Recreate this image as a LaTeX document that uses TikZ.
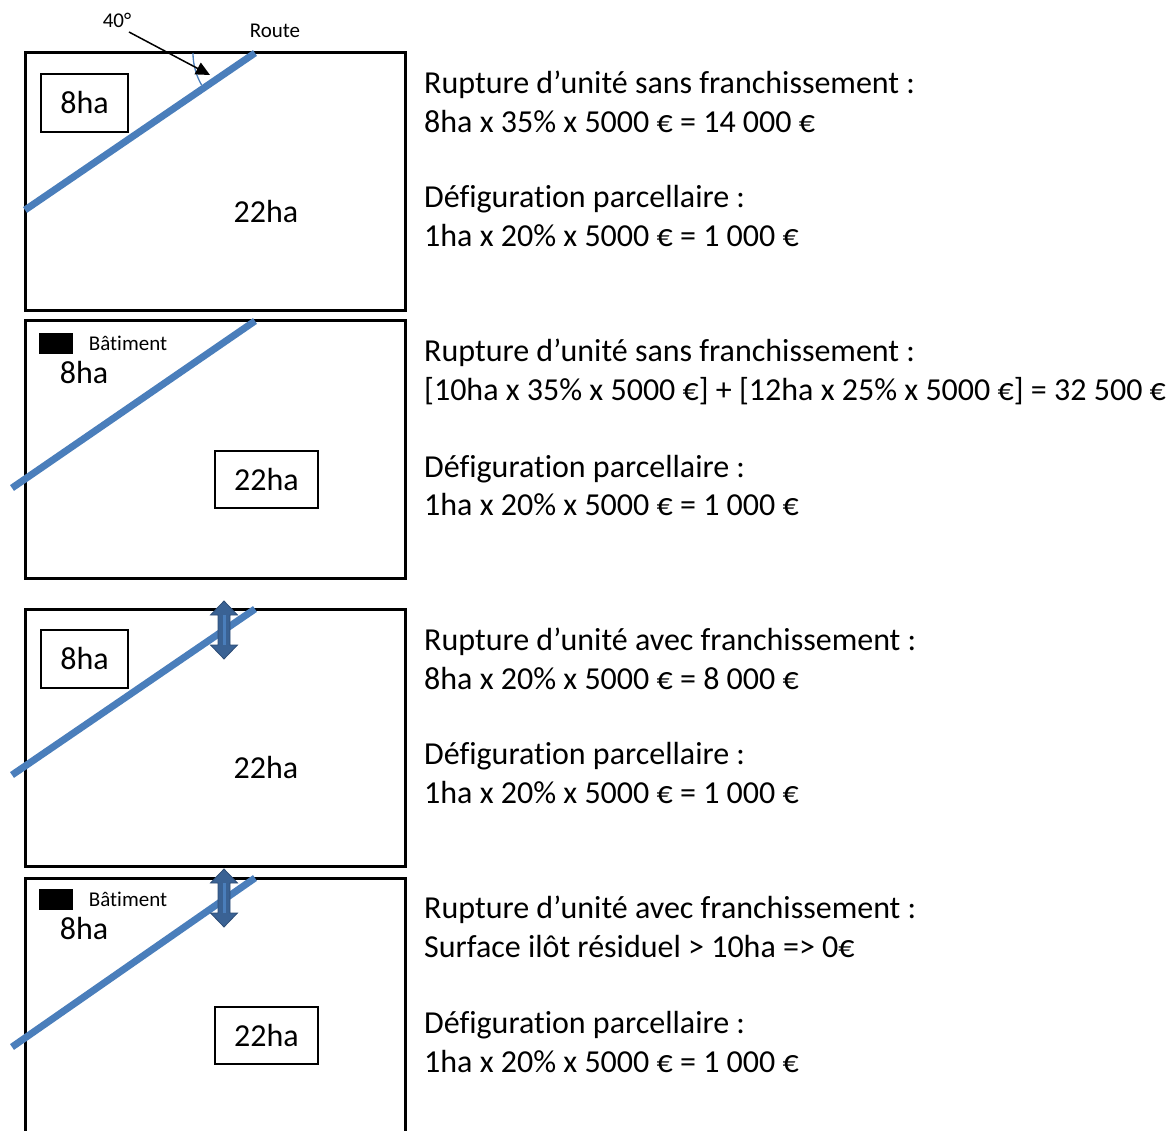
\documentclass[tikz,border=0pt]{standalone}
\usepackage{fontspec}
\setmainfont{Carlito}[Ligatures=NoCommon]
\usetikzlibrary{positioning, arrows.meta}
\definecolor{route}{RGB}{74,126,187}
\definecolor{routedark}{RGB}{58,98,148}

\begin{document}
\begin{tikzpicture}[x=1pt, y=-1pt,
    every node/.style={inner sep=0pt},
    parcelle/.style={line width=3pt},
    route/.style={draw=route, line width=7pt},
    ilot/.style={draw, line width=1.5pt, font=\fontsize{32}{38}\selectfont},
    grand/.style={font=\fontsize{32}{38}\selectfont},
    petit/.style={font=\fontsize{21}{25}\selectfont},
    calcul/.style={anchor=base west, font=\fontsize{32}{38}\selectfont}]
  \useasboundingbox (0,0) rectangle (1170,1131);

  % parcelles
  \draw[parcelle] (25,53) rectangle (405,311);
  \draw[parcelle] (25,321) rectangle (405,578);
  \draw[parcelle] (25,609) rectangle (405,866);
  \draw[parcelle] (25,1135) -- (25,878) -- (405,878) -- (405,1135);

  % routes
  \coordinate (r1a) at (25,210);  \coordinate (r1b) at (255,53);
  \coordinate (r2a) at (12,488);  \coordinate (r2b) at (255,321);
  \coordinate (r3a) at (12,775);  \coordinate (r3b) at (255,609);
  \coordinate (r4a) at (12,1047); \coordinate (r4b) at (255,878);
  \foreach \r in {1,2,3,4}
    \draw[route] (r\r a) -- (r\r b);

  % angle
  \draw[route, line width=1.3pt] (193,53) arc[start angle=180, end angle=150, radius=64];
  \node[petit] (angle) at (117,20) {40°};
  \coordinate (pointe) at (210,75);
  \draw[line width=1.5pt, -{Triangle[length=14pt, width=13pt]}] (129,32) -- (pointe);
  \node[petit] (nomroute) at (275,31) {Route};

  % franchissements
  \foreach \t in {601,869} {
    \begin{scope}[shift={(224,\t)}]
      \filldraw[fill=routedark, draw=routedark!80!black, line width=0.8pt]
        (0,0) -- (13.5,14) -- (6,14) -- (6,44) -- (13.5,44) -- (0,58)
        -- (-13.5,44) -- (-6,44) -- (-6,14) -- (-13.5,14) -- cycle;
      \draw[route, line width=3pt] (0,14) -- (0,44);
    \end{scope}
  }

  % ilots
  \node[ilot, minimum width=87pt, minimum height=58pt] (p1a) at (84.5,103) {8ha};
  \node[grand] (p1b) at (266,212) {22ha};
  \fill (39,333) rectangle (73,354);
  \node[petit] (bat2) at (128,343) {Bâtiment};
  \node[grand] (p2a) at (84,373) {8ha};
  \node[ilot, minimum width=103pt, minimum height=57pt] (p2b) at (266.5,479.5) {22ha};
  \node[ilot, minimum width=87pt, minimum height=58pt] (p3a) at (84.5,659) {8ha};
  \node[grand] (p3b) at (266,768) {22ha};
  \fill (39,889) rectangle (73,910);
  \node[petit] (bat4) at (128,899) {Bâtiment};
  \node[grand] (p4a) at (84,929) {8ha};
  \node[ilot, minimum width=103pt, minimum height=57pt] (p4b) at (266.5,1035.5) {22ha};

  % calculs
  \node[calcul] (c1a) at (424,94) {Rupture d’unité sans franchissement :};
  \node[calcul] (c1b) at (424,133) {8ha x 35\% x 5000 € = 14 000 €};
  \node[calcul] (c1c) at (424,208) {Défiguration parcellaire :};
  \node[calcul] (c1d) at (424,247) {1ha x 20\% x 5000 € = 1 000 €};
  \node[calcul] (c2a) at (424,362) {Rupture d’unité sans franchissement :};
  \node[calcul] (c2b) at (424,401) {[10ha x 35\% x 5000 €] + [12ha x 25\% x 5000 €] = 32 500 €};
  \node[calcul] (c2c) at (424,477) {Défiguration parcellaire :};
  \node[calcul] (c2d) at (424,515) {1ha x 20\% x 5000 € = 1 000 €};
  \node[calcul] (c3a) at (424,650) {Rupture d’unité avec franchissement :};
  \node[calcul] (c3b) at (424,689) {8ha x 20\% x 5000 € = 8 000 €};
  \node[calcul] (c3c) at (424,764) {Défiguration parcellaire :};
  \node[calcul] (c3d) at (424,803) {1ha x 20\% x 5000 € = 1 000 €};
  \node[calcul] (c4a) at (424,918) {Rupture d’unité avec franchissement :};
  \node[calcul] (c4b) at (424,957) {Surface ilôt résiduel > 10ha => 0€};
  \node[calcul] (c4c) at (424,1033) {Défiguration parcellaire :};
  \node[calcul] (c4d) at (424,1072) {1ha x 20\% x 5000 € = 1 000 €};
\end{tikzpicture}
\end{document}
